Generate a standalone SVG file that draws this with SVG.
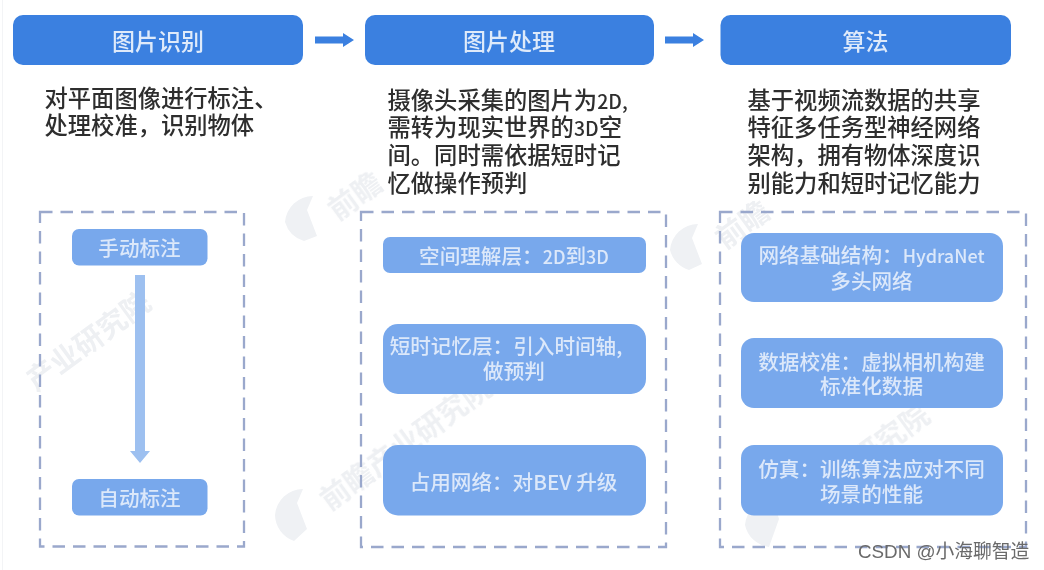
<svg xmlns="http://www.w3.org/2000/svg" width="1044" height="570" viewBox="0 0 1044 570">
<style>
text{font-family:"Noto Sans CJK SC","Noto Sans",sans-serif;text-anchor:middle}
.hd{fill:#3a80e0}
.hdt{fill:#dfeafa;font-size:23px;font-weight:500}
.body{fill:#2e2e2e;font-size:23.300px;font-weight:500;text-anchor:start}
.dash{fill:none;stroke:#9aa8cc;stroke-width:2.300;stroke-dasharray:12.500 8}
.in{fill:#78a8ec}
.int{fill:#dce8fa;font-size:20.600px;font-weight:500}
.lat{font-size:19.500px}
.lat2{font-size:18px}
.wm{fill:#eef0f3;font-size:29px;font-weight:700;text-anchor:start}
.logo{fill:#eff1f4}
</style>
<defs><filter id="soft" x="-2%" y="-2%" width="104%" height="104%"><feGaussianBlur stdDeviation="0.6"/></filter></defs>
<rect width="1044" height="570" fill="#fff"/>
<rect x="2" y="0" width="1" height="570" fill="#f3f4f6"/>
<g id="watermarks" filter="url(#soft)">
<text class="wm" transform="translate(36 392) rotate(-36)">产业研究院</text>
<text class="wm" transform="translate(338 222) rotate(-36)">前瞻</text>
<text class="wm" transform="translate(330 512) rotate(-36)">前瞻产业研究院</text>
<text class="wm" transform="translate(725 250) rotate(-36)">前瞻</text>
<text class="wm" transform="translate(815 505) rotate(-36)">产业研究院</text>
<path class="logo" d="M285 222a28 28 0 0 1 28-26l-6 14 10 26-13 5a28 28 0 0 1-19-19z"/>
<path class="logo" d="M275 515a28 28 0 0 1 28-26l-6 14 10 26-13 12a28 28 0 0 1-19-26z"/>
<path class="logo" d="M670 250a28 28 0 0 1 28-26l-6 14 10 26-13 6a28 28 0 0 1-19-20z"/>
<path class="logo" d="M745 525a28 28 0 0 1 28-26l6 20-10 28a28 28 0 0 1-24-22z"/>
</g>
<g filter="url(#soft)">
<g id="connectors">
<path fill="#3a80e0" d="M315 36.500h28v-3.500l11 7-11 7v-3.500h-28z"/>
<path fill="#3a80e0" d="M665 36.500h28v-3.500l11 7-11 7v-3.500h-28z"/>
<path fill="#9dc0f0" d="M135 275h10v176h5l-10 12-10-12h5z"/>
</g>
<g id="node-header-1"><rect class="hd" x="13" y="15" width="290" height="50" rx="10"/><text class="hdt" x="158" y="50">图片识别</text></g>
<g id="node-header-2"><rect class="hd" x="365" y="15" width="289" height="50" rx="10"/><text class="hdt" x="509" y="50">图片处理</text></g>
<g id="node-header-3"><rect class="hd" x="720.500" y="15" width="290.500" height="50" rx="10"/><text class="hdt" x="865.500" y="50">算法</text></g>
<g id="node-desc-1"><text class="body" x="44.500" y="107">对平面图像进行标注、</text><text class="body" x="44.500" y="134">处理校准，识别物体</text></g>
<g id="node-desc-2"><text class="body" x="387.500" y="109">摄像头采集的图片为<tspan class="lat">2D,</tspan></text><text class="body" x="387.500" y="136">需转为现实世界的<tspan class="lat">3D</tspan>空</text><text class="body" x="387.500" y="164">间。同时需依据短时记</text><text class="body" x="387.500" y="192">忆做操作预判</text></g>
<g id="node-desc-3"><text class="body" x="747.500" y="109">基于视频流数据的共享</text><text class="body" x="747.500" y="136">特征多任务型神经网络</text><text class="body" x="747.500" y="164">架构，拥有物体深度识</text><text class="body" x="747.500" y="192">别能力和短时记忆能力</text></g>
<g id="node-group-1"><rect class="dash" x="40" y="212" width="204" height="334.500"/></g>
<g id="node-group-2"><rect class="dash" x="361" y="212" width="305" height="335"/></g>
<g id="node-group-3"><rect class="dash" x="720" y="212" width="306" height="335"/></g>
<g id="node-manual"><rect class="in" x="72" y="229" width="135.500" height="36.500" rx="7"/><text class="int" x="139.500" y="255.500">手动标注</text></g>
<g id="node-auto"><rect class="in" x="72" y="479" width="135.500" height="36.500" rx="7"/><text class="int" x="139.500" y="505.500">自动标注</text></g>
<g id="node-space"><rect class="in" x="383" y="237" width="263" height="36" rx="7"/><text class="int" x="514" y="263.500">空间理解层：<tspan class="lat2">2D</tspan>到<tspan class="lat2">3D</tspan></text></g>
<g id="node-memory"><rect class="in" x="383" y="324" width="263" height="70" rx="15"/><text class="int" x="506" y="354">短时记忆层：引入时间轴,</text><text class="int" x="514" y="379">做预判</text></g>
<g id="node-occupancy"><rect class="in" x="383" y="445" width="263" height="70.500" rx="15"/><text class="int" x="513.500" y="490">占用网络：对BEV 升级</text></g>
<g id="node-hydra"><rect class="in" x="741" y="233" width="262" height="69" rx="13"/><text class="int" x="871.500" y="263">网络基础结构：<tspan class="lat2">HydraNet</tspan></text><text class="int" x="871.500" y="289">多头网络</text></g>
<g id="node-calib"><rect class="in" x="741" y="338" width="262" height="70" rx="13"/><text class="int" x="871.500" y="370">数据校准：虚拟相机构建</text><text class="int" x="871.500" y="394">标准化数据</text></g>
<g id="node-sim"><rect class="in" x="741" y="445" width="262" height="70.500" rx="13"/><text class="int" x="871.500" y="477">仿真：训练算法应对不同</text><text class="int" x="871.500" y="502">场景的性能</text></g>
</g>
<text x="858" y="558" fill="#6a6a6a" style="text-anchor:start;font-family:'Liberation Sans','Noto Sans CJK SC',sans-serif;font-size:18.800px">CSDN @小海聊智造</text>
</svg>
